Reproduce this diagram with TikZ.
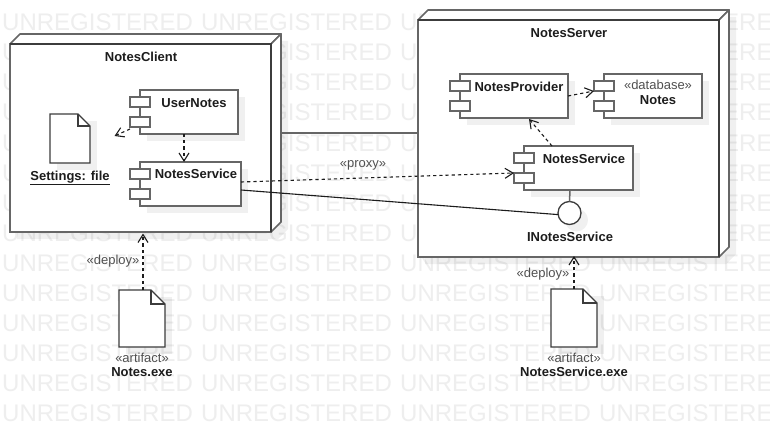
\documentclass[tikz,border=0pt]{standalone}
\usepackage{fontspec}
\setmainfont{Liberation Sans}
\usetikzlibrary{arrows.meta,shadows}
\definecolor{edge}{HTML}{666666}
\definecolor{darkedge}{HTML}{3C3C3C}
\definecolor{inkc}{HTML}{1C1C1C}
\definecolor{stereo}{HTML}{505050}
\definecolor{wm}{HTML}{EEEEEE}
\tikzset{
  softshadow/.style={drop shadow={shadow xshift=7pt,shadow yshift=-7pt,fill=black,opacity=.06}},
  devfront/.style={rectangle,fill=white,draw=edge,line width=1.7pt,inner sep=0pt,outer sep=0pt},
  devface/.style={fill=white,draw=edge,line width=1.7pt,line join=round},
  devdark/.style={draw=darkedge,line width=1.7pt},
  body/.style={rectangle,fill=white,draw=edge,line width=1.5pt,inner sep=0pt,outer sep=0pt,softshadow},
  port/.style={rectangle,fill=white,draw=edge,line width=1.5pt,inner sep=0pt,outer sep=0pt,minimum width=20pt,minimum height=10pt},
  ghost/.style={rectangle,inner sep=0pt,outer sep=0pt},
  title/.style={inner sep=0pt,text=inkc,font=\bfseries\fontsize{13}{13}\selectfont,text height=9.3pt,text depth=0pt},
  stereotype/.style={inner sep=0pt,text=stereo,font=\fontsize{13}{13}\selectfont,text height=9.3pt,text depth=0pt},
  watermark/.style={inner sep=0pt,anchor=west,text=wm,font=\fontsize{24}{24}\selectfont,text height=17.2pt,text depth=0pt},
  dep/.style={draw=inkc,line width=1.1pt,dash pattern=on 3.2pt off 3pt,-{Straight Barb[length=8pt,width=10pt,line width=1.1pt]}},
  assoc/.style={draw=inkc,line width=1.1pt},
  assocgray/.style={draw=edge,line width=1.5pt},
}
\newcommand{\umlcomp}[5]{% name, centre x, centre y, width, height
  \node[body,minimum width=#4pt,minimum height=#5pt] (#1) at (#2,#3) {};
  \node[port,anchor=north] (#1-p1) at ([yshift=-7pt]#1.north west) {};
  \node[port,anchor=north] (#1-p2) at ([yshift=-27pt]#1.north west) {};
}
\newcommand{\umlfile}[6]{% name, x1, y1, x2, y2, fold
  \fill[black,opacity=.06] (#2+7,#3+7) rectangle (#4+7,#5+7);
  \node[ghost,minimum width=#4pt-#2pt,minimum height=#5pt-#3pt] (#1) at ({(#2+#4)/2},{(#3+#5)/2}) {};
  \draw[fill=white,draw=darkedge,line width=1.3pt,line join=miter] (#1.north west) -- ([xshift=-#6pt]#1.north east) -- ([yshift=-#6pt]#1.north east) -- (#1.south east) -- (#1.south west) -- cycle;
  \draw[draw=darkedge,line width=1.3pt] ([xshift=-#6pt]#1.north east) -- ([xshift=-#6pt,yshift=-#6pt]#1.north east) -- ([yshift=-#6pt]#1.north east);
}
\newcommand{\umlnode}[5]{% name, x1, y1, x2, y2
  \fill[black,opacity=.06] (#2+7,#3-3) -- (#4+17,#3-3) -- (#4+17,#5-3) -- (#4+7,#5+7) -- (#2+7,#5+7) -- cycle;
  \node[devfront,minimum width=#4pt-#2pt,minimum height=#5pt-#3pt] (#1) at ({(#2+#4)/2},{(#3+#5)/2}) {};
  \draw[devface] (#1.north west) -- ++(10,-10) -- ([shift={(10pt,10pt)}]#1.north east) -- (#1.north east) -- cycle;
  \draw[devface] (#1.north east) -- ([shift={(10pt,10pt)}]#1.north east) -- ([shift={(10pt,10pt)}]#1.south east) -- (#1.south east) -- cycle;
  \draw[devdark] (#1.north west) -- (#1.north east) -- (#1.south east);
}
\begin{document}
\begin{tikzpicture}[x=1pt,y=-1pt]
\useasboundingbox (0,0) rectangle (770,425);
\fill[white] (0,0) rectangle (770,425);
% evaluation watermark
\foreach \r in {0,...,13}{
  \foreach \c in {0,...,3}{
    \node[watermark] (wm-\r-\c) at ({2+199*\c},{22+30.1*\r}) {UNREGISTERED};
  }
}
% devices
\umlnode{client}{10}{44}{271}{232}
\umlnode{server}{418}{20}{719}{257}
\node[title] (clientname) at (141,56.5) {NotesClient};
\node[title] (servername) at (569,32.5) {NotesServer};
% client contents
\umlcomp{usernotes}{189}{112}{98}{44}
\umlcomp{clientsvc}{190.5}{184}{101}{44}
\node[title] (usernotesname) at (194,102.5) {UserNotes};
\node[title] (clientsvcname) at (196,174) {NotesService};
\umlfile{settings}{50}{114}{90}{163}{12}
\node[title] (settingsname) at (70,175.5) {\underline{Settings: file}};
\coordinate (settingsend) at (114.5,136);
% server contents
\umlcomp{provider}{514}{96}{108}{44}
\umlcomp{notesdb}{653}{96}{98}{44}
\umlcomp{serversvc}{578.5}{168}{109}{44}
\node[title] (providername) at (519,86.5) {NotesProvider};
\node[stereotype] (dbstereo) at (658,85) {«database»};
\node[title] (dbname) at (658,99.5) {Notes};
\node[title] (serversvcname) at (584,158.5) {NotesService};
\node[circle,fill=white,draw=darkedge,line width=1.3pt,minimum size=23pt,inner sep=0pt,outer sep=0pt,softshadow] (iface) at (569.5,213) {};
\node[title] (ifacename) at (570,237) {INotesService};
% artifacts
\umlfile{notesexe}{119}{290}{165}{347}{14}
\node[stereotype] (notesexest) at (142,358) {«artifact»};
\node[title] (notesexename) at (142,372) {Notes.exe};
\umlfile{svcexe}{551}{289}{597}{347}{14}
\node[stereotype] (svcexest) at (574,357.5) {«artifact»};
\node[title] (svcexename) at (574,372) {NotesService.exe};
% connectors
\coordinate (linkstart) at ([shift={(11pt,5pt)}]client.east);
\draw[assocgray] (linkstart) -- (linkstart -| server.west);
\draw[assoc] ([yshift=-6pt]clientsvc.east) -- (iface.188);
\draw[assocgray] ([xshift=-8.5pt]serversvc.south) -- (iface.north);
\draw[dep] ([yshift=-2pt]usernotes-p2.south west) -- (settingsend);
\draw[dep] ([xshift=-5pt]usernotes.south) -- ([xshift=-6.5pt]clientsvc.north);
\draw[dep] ([yshift=2pt]clientsvc.east) -- (serversvc-p2.north west);
\node[stereotype] (proxylabel) at (363,163) {«proxy»};
\draw[dep] ([xshift=-26.5pt]serversvc.north) -- ([xshift=15pt,yshift=-1pt]provider.south);
\draw[dep] (provider.east) -- (notesdb-p1.south west);
\draw[dep] ([xshift=1pt]notesexe.north) -- ([xshift=1pt,yshift=-1.5pt]notesexe.north |- client.south);
\node[stereotype] (deployleft) at (113,260) {«deploy»};
\draw[dep] (svcexe.north) -- ([yshift=1pt]svcexe.north |- server.south);
\node[stereotype] (deployright) at (543,273) {«deploy»};
\end{tikzpicture}
\end{document}
